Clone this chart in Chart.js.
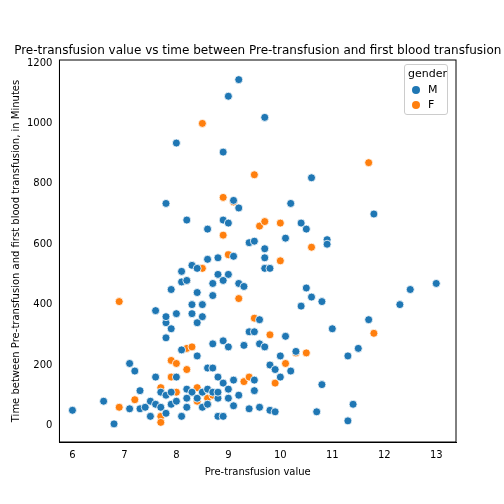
<!DOCTYPE html>
<html>
<head>
<meta charset="utf-8">
<script src="https://cdn.jsdelivr.net/npm/chart.js@4"></script>
<style>
  body { margin: 0; background: #fff; }
  #wrap { position: relative; width: 504px; height: 504px; }
  #legend { position: absolute; left: 404px; top: 64px; width: 44px; border: 1px solid #ccc; border-radius: 3px;
    background: rgba(255,255,255,0.8); font: 11px "DejaVu Sans", sans-serif; padding: 2px 3px; box-sizing: border-box; }
  #legend .t { text-align: center; margin-bottom: 2px; }
  #legend .r { display: flex; align-items: center; height: 15px; }
  #legend .d { width: 8px; height: 8px; border-radius: 50%; margin: 0 8px 0 4px; }
</style>
</head>
<body>
<div id="wrap">
  <canvas id="myChart" width="504" height="504"></canvas>
  <div id="legend">
    <div class="t">gender</div>
    <div class="r"><span class="d" style="background:#1f77b4"></span>M</div>
    <div class="r"><span class="d" style="background:#ff7f0e"></span>F</div>
  </div>
</div>
<script>
// pre-transfusion value / minutes, split by gender
const maleX = [6.0,6.6,6.8,7.1,7.2,7.1,7.3,7.3,7.4,7.5,7.5,7.6,7.6,7.6,7.7,7.7,7.8,7.8,7.8,7.8,7.8,7.8,7.9,7.9,7.9,7.9,8.0,8.0,8.0,8.0,8.1,8.1,8.1,8.1,8.2,8.2,8.2,8.2,8.3,8.3,8.3,8.3,8.4,8.4,8.4,8.4,8.4,8.5,8.5,8.5,8.6,8.6,8.6,8.6,8.7,8.7,8.7,8.7,8.7,8.8,8.8,8.8,8.8,8.8,8.9,8.9,8.9,8.9,8.9,8.9,9.0,9.0,9.0,9.0,9.0,9.1,9.1,9.1,9.1,9.2,9.2,9.2,9.2,9.3,9.3,9.4,9.4,9.4,9.5,9.5,9.5,9.5,9.6,9.6,9.6,9.7,9.7,9.7,9.7,9.7,9.8,9.8,9.8,9.9,9.9,10.0,10.0,10.1,10.1,10.2,10.2,10.3,10.4,10.4,10.5,10.5,10.6,10.6,10.7,10.8,10.8,10.9,10.9,11.0,11.3,11.3,11.4,11.5,11.7,11.8,12.3,12.5,13.0,8.2,8.5,8.8,9.0,8.6]
const maleY = [50,80,5,205,180,55,115,55,60,80,30,70,160,380,110,60,735,340,360,290,40,100,450,320,110,70,935,370,160,80,510,475,250,30,680,480,120,60,370,530,110,400,520,440,340,230,90,360,400,110,550,650,190,120,470,430,190,110,270,555,500,160,30,90,905,680,480,280,140,30,1090,670,500,260,90,745,560,150,65,1145,720,470,100,460,265,310,605,55,610,310,150,115,350,270,60,1020,585,555,520,260,200,520,50,45,185,230,160,620,295,735,180,245,670,395,650,455,820,425,45,410,135,615,600,320,230,15,70,255,350,700,400,450,470,90,60,110,120,70]
const femaleX = [6.9,6.9,7.2,7.7,7.7,7.7,7.9,7.9,8.0,8.0,8.2,8.2,8.2,8.3,8.4,8.4,8.5,8.5,8.6,8.6,8.7,8.9,8.9,9.0,9.1,9.2,9.3,9.4,9.5,9.5,9.6,9.7,9.8,9.8,9.9,10.0,10.0,10.1,10.3,10.5,10.6,11.7,11.8]
const femaleY = [410,60,85,125,30,10,215,160,205,110,480,255,185,260,80,125,1000,520,90,70,100,755,630,565,740,420,145,160,830,355,660,675,300,200,140,670,545,205,240,240,590,870,305]
const xTicks = [6,7,8,9,10,11,12,13]
const yTicks = [0,200,400,600,800,1000,1200]

const toPoints = (xs, ys) => xs.map((x, i) => ({ x: x, y: ys[i] }))
const font = { family: 'DejaVu Sans', size: 10 }

// title centred on the plot area, allowed to run off the canvas like the original
const titlePlugin = {
    id: 'plotTitle',
    afterDraw: (chart) => {
        const { ctx, chartArea } = chart
        ctx.save()
        ctx.font = '12px "DejaVu Sans"'
        ctx.fillStyle = '#000'
        ctx.textAlign = 'center'
        ctx.textBaseline = 'bottom'
        ctx.fillText('Pre-transfusion value vs time between Pre-transfusion and first blood transfusion',
            (chartArea.left + chartArea.right) / 2, chartArea.top - 3)
        ctx.restore()
    }
}

new Chart(document.getElementById('myChart'), {
    type: 'scatter',
    data: {
        datasets: [
            { label: 'M', data: toPoints(maleX, maleY), backgroundColor: '#1f77b4', borderColor: '#fff', borderWidth: 0.8, pointRadius: 4 },
            { label: 'F', data: toPoints(femaleX, femaleY), backgroundColor: '#ff7f0e', borderColor: '#fff', borderWidth: 0.8, pointRadius: 4 },
        ]
    },
    options: {
        responsive: false,
        animation: false,
        layout: { padding: { left: 8, right: 48, top: 60, bottom: 24 } },
        plugins: { legend: { display: false }, tooltip: { enabled: false } },
        scales: {
            x: {
                type: 'linear', min: 5.75, max: 13.38,
                afterBuildTicks: (axis) => { axis.ticks = xTicks.map(v => ({ value: v })) },
                ticks: { color: '#000', font: font, callback: v => String(v) },
                grid: { display: false, drawTicks: true, tickLength: 4, tickColor: '#000' },
                border: { color: '#000' },
                title: { display: true, text: 'Pre-transfusion value', color: '#000', font: font, padding: 2 }
            },
            y: {
                type: 'linear', min: -55, max: 1210,
                afterBuildTicks: (axis) => { axis.ticks = yTicks.map(v => ({ value: v })) },
                ticks: { color: '#000', font: font, callback: v => String(v) },
                grid: { display: false, drawTicks: true, tickLength: 4, tickColor: '#000' },
                border: { color: '#000' },
                title: { display: true, text: 'Time between Pre-transfusion and first blood transfusion, in Minutes', color: '#000', font: font, padding: 2 }
            }
        }
    },
    plugins: [titlePlugin, {
        id: 'frame',
        afterDraw: (chart) => {
            const { ctx, chartArea: a } = chart
            ctx.save()
            ctx.strokeStyle = '#000'
            ctx.lineWidth = 1
            ctx.strokeRect(a.left, a.top, a.right - a.left, a.bottom - a.top)
            ctx.restore()
        }
    }]
})
</script>
</body>
</html>
